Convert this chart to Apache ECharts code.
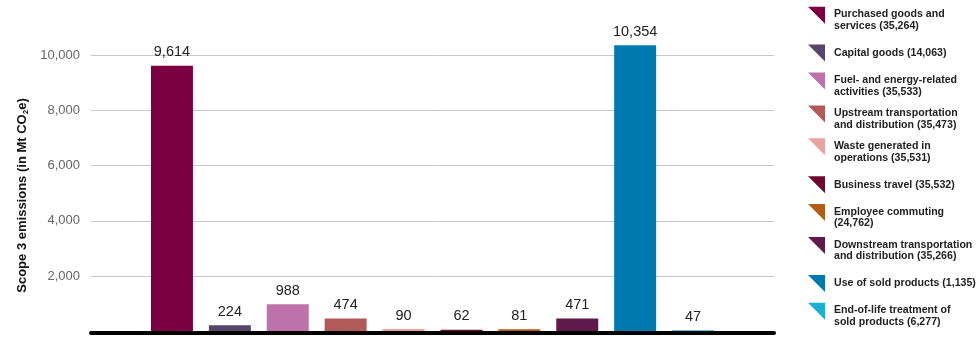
<!DOCTYPE html>
<html>
<head>
<meta charset="utf-8">
<script src="https://cdn.jsdelivr.net/npm/echarts@6/dist/echarts.min.js"></script>
<style>html,body{margin:0;padding:0;background:#fff;}#c{width:980px;height:341px;}</style>
</head>
<body>
<div id="c"></div>
<script>
// ---- data ----
const categories = [
  'Purchased goods and\nservices (35,264)',
  'Capital goods (14,063)',
  'Fuel- and energy-related\nactivities (35,533)',
  'Upstream transportation\nand distribution (35,473)',
  'Waste generated in\noperations (35,531)',
  'Business travel (35,532)',
  'Employee commuting\n(24,762)',
  'Downstream transportation\nand distribution (35,266)',
  'Use of sold products (1,135)',
  'End-of-life treatment of\nsold products (6,277)'
];
const values = [9614, 224, 988, 474, 90, 62, 81, 471, 10354, 47];
const colors = ['#7B0041', '#55466A', '#BE72AC', '#B05A5A', '#E8A4A2', '#6B0A2E', '#B35C16', '#5E1A4A', '#0079AF', '#1BB0D2'];
const yTicks = [0, 2000, 4000, 6000, 8000, 10000];

const FONT = 'Liberation Sans, Arial, Helvetica, sans-serif';
const iconTwo = 'path://M0,0L17,0L17,17Z M21,27';
const iconOne = 'path://M0,0 M0,5L17,5L17,22Z M21,27';

const series = categories.map((name, i) => ({
  name: name,
  type: 'bar',
  xAxisIndex: 1,
  yAxisIndex: 1,
  stack: 'all',
  barWidth: 42,
  itemStyle: { color: colors[i] },
  label: {
    show: true,
    position: 'top',
    distance: 6,
    color: '#222',
    fontFamily: FONT,
    fontSize: 14.5,
    formatter: p => p.value.toLocaleString('en-US')
  },
  data: values.map((v, j) => (j === i ? v : '-'))
}));

const chart = echarts.init(document.getElementById('c'), null, { renderer: 'canvas' });
chart.setOption({
  animation: false,
  backgroundColor: '#fff',
  grid: [
    { left: 91, right: 206, top: 27.3, bottom: 9.5 },
    { left: 143, right: 258, top: 27.3, bottom: 9.5 }
  ],
  xAxis: [
    {
      gridIndex: 0, type: 'value', min: 0, max: 1, z: 10, offset: 1.5,
      axisLine: { show: true, onZero: false, lineStyle: { color: '#000', width: 4 } },
      axisTick: { show: false }, axisLabel: { show: false }, splitLine: { show: false }
    },
    {
      gridIndex: 1, type: 'category', data: categories,
      axisLine: { show: false }, axisTick: { show: false }, axisLabel: { show: false }, splitLine: { show: false }
    }
  ],
  yAxis: [
    {
      gridIndex: 0, type: 'value', min: yTicks[0], max: 11000, interval: 2000,
      axisLine: { show: false }, axisTick: { show: false },
      axisLabel: {
        color: '#666', fontFamily: FONT, fontSize: 13, margin: 11,
        showMinLabel: false, showMaxLabel: false,
        formatter: v => (yTicks.indexOf(v) > 0 ? v.toLocaleString('en-US') : '')
      },
      splitLine: { show: true, showMinLine: false, showMaxLine: false, lineStyle: { color: '#c8c8c8', width: 1 } }
    },
    {
      gridIndex: 1, type: 'value', min: yTicks[0], max: 11000, interval: 2000, show: false,
      splitLine: { show: false }
    }
  ],
  legend: {
    orient: 'vertical',
    left: 808,
    top: 6.7,
    padding: 0,
    itemWidth: 21,
    itemHeight: 27,
    itemGap: 5.9,
    selectedMode: false,
    textStyle: { color: '#222', fontFamily: FONT, fontWeight: 'bold', fontSize: 10.6, lineHeight: 11.7 },
    data: categories.map(n => ({ name: n, icon: n.indexOf('\n') >= 0 ? iconTwo : iconOne }))
  },
  graphic: [
    {
      type: 'text',
      x: 22, y: 195.5,
      rotation: Math.PI / 2,
      style: {
        text: '{a|Scope 3 emissions (in Mt CO}{s|2}{a|e)}',
        align: 'center',
        verticalAlign: 'middle',
        fill: '#111',
        rich: {
          a: { fontFamily: FONT, fontWeight: 'bold', fontSize: 13, fill: '#111', lineHeight: 16 },
          s: { fontFamily: FONT, fontWeight: 'bold', fontSize: 8, fill: '#111', lineHeight: 16, padding: [7, 0, 0, 0] }
        }
      }
    }
  ],
  series: series
});
</script>
</body>
</html>
